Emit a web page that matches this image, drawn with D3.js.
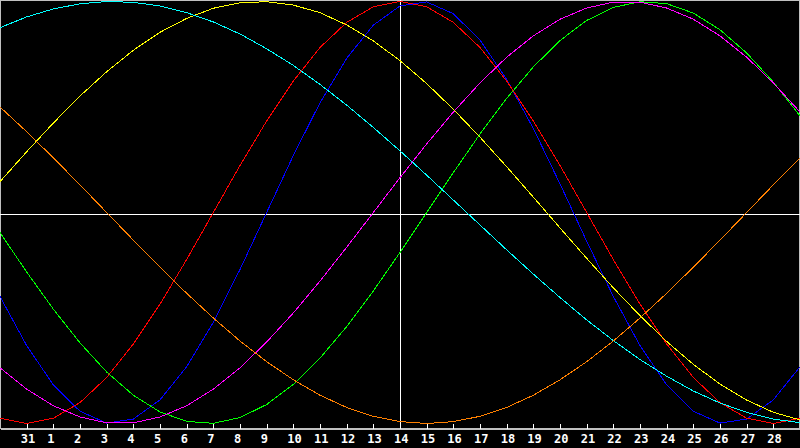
<!DOCTYPE html>
<html>
<head>
<meta charset="utf-8">
<script src="https://cdn.jsdelivr.net/npm/d3@7"></script>
<style>
    html, body { margin: 0; padding: 0; background: #000; }
    .chart { width: 800px; height: 448px; overflow: hidden; }
</style>
</head>
<body>
<div class="chart"></div>
<script>
'use strict';

/*---------------------------------------------------------------
data | one value per day, jan 30 -> mar 1
---------------------------------------------------------------*/
var dayLabels = ['30','31','1','2','3','4','5','6','7','8','9','10','11','12','13','14',
    '15','16','17','18','19','20','21','22','23','24','25','26','27','28','1'];

var physical = [-0.398,-0.631,-0.817,-0.942,-0.998,-0.979,-0.888,-0.731,-0.520,-0.270,0,
    0.270,0.520,0.731,0.888,0.979,0.998,0.942,0.817,0.631,0.398,0.136,-0.136,-0.398,
    -0.631,-0.817,-0.942,-0.998,-0.979,-0.888,-0.731];

var emotional = [-0.975,-1,-0.975,-0.901,-0.782,-0.623,-0.434,-0.223,0,0.223,0.434,
    0.623,0.782,0.901,0.975,1,0.975,0.901,0.782,0.623,0.434,0.223,0,-0.223,-0.434,
    -0.623,-0.782,-0.901,-0.975,-1,-0.975];

var intellectual = [-0.095,-0.282,-0.458,-0.618,-0.756,-0.866,-0.945,-0.990,-0.999,
    -0.972,-0.910,-0.815,-0.690,-0.541,-0.372,-0.189,0,0.189,0.372,0.541,0.690,0.815,
    0.910,0.972,0.999,0.990,0.945,0.866,0.756,0.618,0.458];

var intuitive = [-0.736,-0.837,-0.916,-0.969,-0.997,-0.997,-0.969,-0.916,-0.837,-0.736,
    -0.614,-0.476,-0.325,-0.165,0,0.165,0.325,0.476,0.614,0.736,0.837,0.916,0.969,
    0.997,0.997,0.969,0.916,0.837,0.736,0.614,0.476];

var aesthetic = [0.146,0.288,0.424,0.552,0.667,0.769,0.854,0.920,0.968,0.994,0.999,
    0.983,0.947,0.889,0.813,0.720,0.611,0.489,0.357,0.217,0.073,-0.073,-0.217,-0.357,
    -0.489,-0.611,-0.720,-0.813,-0.889,-0.947,-0.983];

var spiritual = [0.876,0.927,0.965,0.989,1.000,0.996,0.979,0.947,0.903,0.846,0.776,
    0.697,0.607,0.509,0.403,0.292,0.177,0.059,-0.059,-0.177,-0.292,-0.403,-0.509,
    -0.607,-0.697,-0.776,-0.846,-0.903,-0.947,-0.979,-0.996];

var awareness = [0.5,0.383,0.259,0.131,0,-0.131,-0.259,-0.383,-0.5,-0.609,-0.707,
    -0.793,-0.866,-0.924,-0.966,-0.991,-1,-0.991,-0.966,-0.924,-0.866,-0.793,-0.707,
    -0.609,-0.5,-0.383,-0.259,-0.131,0,0.131,0.259];

var todayIndex = 15; // feb 14

/*---------------------------------------------------------------
set width + height
---------------------------------------------------------------*/
var w = 800,
    h = 448,
    axisY = 428;

var svg = d3.select('.chart')
    .append('svg')
    .attr('width', w)
    .attr('height', h)
    .style('display', 'block')
    .style('background', '#000');

var x = d3.scaleLinear()
    .domain([0, dayLabels.length - 1])
    .range([0, w]);

var y = d3.scaleLinear()
    .domain([-1, 1])
    .range([423.5, 1.5]);

/*---------------------------------------------------------------
frame + cross lines
---------------------------------------------------------------*/
svg.append('rect')
    .attr('x', 0.5)
    .attr('y', 0.5)
    .attr('width', w - 1)
    .attr('height', axisY)
    .attr('fill', 'none')
    .attr('stroke', '#c0c0c0')
    .attr('shape-rendering', 'crispEdges');

svg.append('line')
    .attr('x1', 0)
    .attr('x2', w)
    .attr('y1', 214.5)
    .attr('y2', 214.5)
    .attr('stroke', '#fff')
    .attr('shape-rendering', 'crispEdges');

svg.append('line')
    .attr('x1', x(todayIndex) + 0.5)
    .attr('x2', x(todayIndex) + 0.5)
    .attr('y1', 0)
    .attr('y2', axisY)
    .attr('stroke', '#fff')
    .attr('shape-rendering', 'crispEdges');

/*---------------------------------------------------------------
axis
---------------------------------------------------------------*/
var xAxis = d3.axisBottom(x)
    .tickValues(d3.range(1, dayLabels.length - 1))
    .tickFormat(function(d) { return dayLabels[d]; })
    .tickSize(-5)
    .tickSizeOuter(0);

var gx = svg.append('g')
    .attr('transform', 'translate(0,' + (axisY + 0.5) + ')')
    .call(xAxis);

gx.select('.domain')
    .attr('stroke', '#c0c0c0')
    .attr('shape-rendering', 'crispEdges');

gx.selectAll('.tick line')
    .attr('stroke', '#fff')
    .attr('shape-rendering', 'crispEdges');

gx.selectAll('.tick text')
    .attr('fill', '#fff')
    .attr('y', 14.5)
    .attr('dy', 0)
    .attr('dx', -6.5)
    .attr('text-anchor', 'start')
    .attr('font-family', '"DejaVu Sans Mono", monospace')
    .attr('font-weight', 'bold')
    .attr('font-size', 12);

/*---------------------------------------------------------------
curves
---------------------------------------------------------------*/
var series = [
    { values: physical, color: '#0000ff' },
    { values: emotional, color: '#ff0000' },
    { values: intellectual, color: '#00ff00' },
    { values: intuitive, color: '#ff00ff' },
    { values: aesthetic, color: '#ffff00' },
    { values: spiritual, color: '#00ffff' },
    { values: awareness, color: '#ff8000' }
];

var line = d3.line()
    .x(function(d, i) { return x(i); })
    .y(function(d) { return y(d); });

svg.selectAll('path.curve')
    .data(series)
    .enter()
    .append('path')
    .attr('class', 'curve')
    .attr('d', function(d) { return line(d.values); })
    .attr('fill', 'none')
    .attr('stroke', function(d) { return d.color; })
    .attr('stroke-width', 1)
    .attr('shape-rendering', 'crispEdges');
</script>
</body>
</html>
